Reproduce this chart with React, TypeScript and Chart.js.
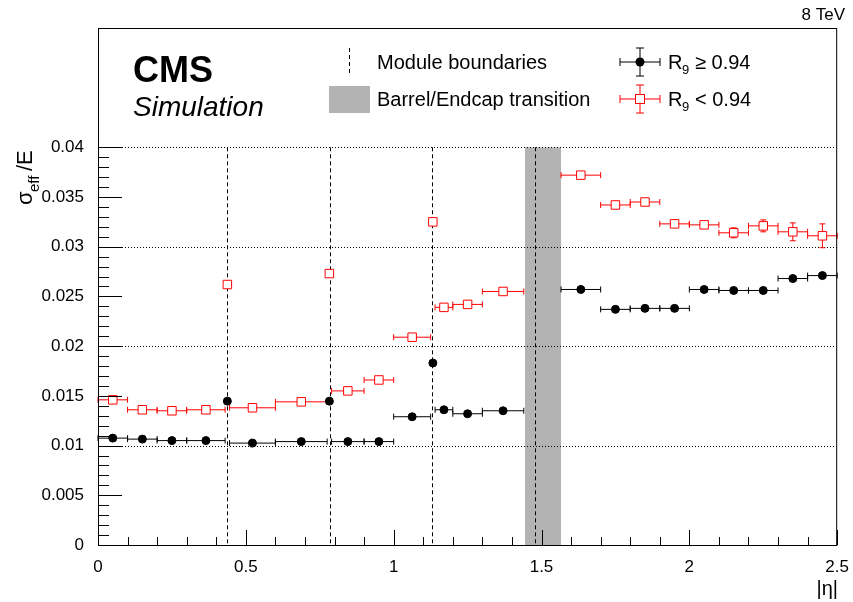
import React, { useEffect, useRef } from 'react';
import { Chart, registerables } from 'chart.js';
Chart.register(...registerables);

// bin edges in |eta| and bin values
const binLo = [0, 0.1, 0.2, 0.3, 0.43, 0.445, 0.6, 0.775, 0.79, 0.9, 1.0, 1.125, 1.14, 1.2, 1.3, 1.566, 1.7, 1.8, 1.9, 2.0, 2.1, 2.2, 2.3, 2.4];
const binHi = [0.1, 0.2, 0.3, 0.43, 0.445, 0.6, 0.775, 0.79, 0.9, 1.0, 1.125, 1.14, 1.2, 1.3, 1.44, 1.7, 1.8, 1.9, 2.0, 2.1, 2.2, 2.3, 2.4, 2.5];
const highR9 = [0.01075, 0.01065, 0.0105, 0.0105, 0.01447, 0.01025, 0.0104, 0.01447, 0.0104, 0.0104, 0.0129, 0.0183, 0.0136, 0.0132, 0.0135, 0.0257, 0.0237, 0.0238, 0.0238, 0.0257, 0.0256, 0.0256, 0.0268, 0.0271];
const highErr = [0.0001, 0.0001, 0.0001, 0.0001, 0.0002, 0.0001, 0.0001, 0.0002, 0.0001, 0.0001, 0.0002, 0.0003, 0.0002, 0.0002, 0.0002, 0.0002, 0.0002, 0.0002, 0.0002, 0.0002, 0.0002, 0.0002, 0.0003, 0.0003];
const lowR9 = [0.0146, 0.0136, 0.0135, 0.0136, 0.0262, 0.0138, 0.0144, 0.0273, 0.0155, 0.0166, 0.0209, 0.0325, 0.0239, 0.0242, 0.0255, 0.0372, 0.0342, 0.0345, 0.0323, 0.0322, 0.0314, 0.0321, 0.0315, 0.0311];
const lowErr = [0.0002, 0.0002, 0.0002, 0.0002, 0.0004, 0.0002, 0.0002, 0.0004, 0.0002, 0.0002, 0.0003, 0.0004, 0.0003, 0.0003, 0.0003, 0.0004, 0.0003, 0.0003, 0.0004, 0.0004, 0.0005, 0.0006, 0.0009, 0.0012];
const moduleBounds = [0.435, 0.783, 1.13, 1.479];
const transition = [1.4442, 1.566];
const yTicks = [0, 0.005, 0.01, 0.015, 0.02, 0.025, 0.03, 0.035, 0.04];

const FONT = '"Liberation Sans", Arial, sans-serif';
const RED = '#ff0000';

const mkPts = (vals: number[], errs: number[]) =>
  vals.map((v, i) => ({ x: (binLo[i] + binHi[i]) / 2, y: v, lo: binLo[i], hi: binHi[i], e: errs[i] }));

const deco = {
  id: 'deco',
  beforeDatasetsDraw(chart: any) {
    const { ctx, chartArea: a, scales: { x, y } } = chart;
    ctx.save();
    // transition band
    ctx.fillStyle = '#b3b3b3';
    ctx.fillRect(x.getPixelForValue(transition[0]), y.getPixelForValue(0.04), x.getPixelForValue(transition[1]) - x.getPixelForValue(transition[0]), a.bottom - y.getPixelForValue(0.04));
    // dotted grid
    ctx.strokeStyle = '#000';
    ctx.lineWidth = 1;
    ctx.setLineDash([1, 2]);
    [0.01, 0.02, 0.03, 0.04].forEach((v) => {
      const py = Math.round(y.getPixelForValue(v)) + 0.5;
      ctx.beginPath(); ctx.moveTo(a.left, py); ctx.lineTo(a.right, py); ctx.stroke();
    });
    // module boundaries
    ctx.setLineDash([4, 3]);
    moduleBounds.forEach((b) => {
      const px = Math.round(x.getPixelForValue(b)) + 0.5;
      ctx.beginPath(); ctx.moveTo(px, y.getPixelForValue(0.04)); ctx.lineTo(px, a.bottom); ctx.stroke();
    });
    ctx.setLineDash([]);
    // error bars
    chart.data.datasets.forEach((ds: any) => {
      ctx.strokeStyle = ds.borderColor;
      ds.data.forEach((p: any) => {
        const px = x.getPixelForValue(p.x), py = y.getPixelForValue(p.y);
        const x0 = x.getPixelForValue(p.lo), x1 = x.getPixelForValue(p.hi);
        ctx.beginPath();
        ctx.moveTo(x0, py); ctx.lineTo(x1, py);
        ctx.moveTo(x0, py - 3); ctx.lineTo(x0, py + 3);
        ctx.moveTo(x1, py - 3); ctx.lineTo(x1, py + 3);
        ctx.moveTo(px, y.getPixelForValue(p.y - p.e)); ctx.lineTo(px, y.getPixelForValue(p.y + p.e));
        ctx.stroke();
        if (p.e > 0.0004) {
          [p.y - p.e, p.y + p.e].forEach((v) => {
            const q = y.getPixelForValue(v);
            ctx.beginPath(); ctx.moveTo(px - 3, q); ctx.lineTo(px + 3, q); ctx.stroke();
          });
        }
      });
    });
    ctx.restore();
  },
  afterDraw(chart: any) {
    const { ctx, chartArea: a, scales: { x, y } } = chart;
    ctx.save();
    ctx.strokeStyle = '#000';
    ctx.lineWidth = 1;
    ctx.strokeRect(a.left + 0.5, a.top + 0.5, a.right - a.left - 1, a.bottom - a.top);
    // inner ticks (left and bottom only)
    ctx.beginPath();
    for (let i = 0; i <= 40; i++) {
      const v = i * 0.001;
      const py = Math.round(y.getPixelForValue(v)) + 0.5;
      const l = i % 5 === 0 ? 24 : 11;
      ctx.moveTo(a.left, py); ctx.lineTo(a.left + l, py);
    }
    for (let i = 0; i <= 25; i++) {
      const px = Math.round(x.getPixelForValue(i * 0.1)) + 0.5;
      const l = i % 5 === 0 ? 15 : 8;
      ctx.moveTo(px, a.bottom); ctx.lineTo(px, a.bottom - l);
    }
    ctx.stroke();
    // texts
    ctx.fillStyle = '#000';
    ctx.textBaseline = 'alphabetic';
    ctx.font = `bold 36px ${FONT}`;
    ctx.fillText('CMS', 133, 82);
    ctx.font = `italic 28px ${FONT}`;
    ctx.fillText('Simulation', 133, 116);
    ctx.font = `17px ${FONT}`;
    ctx.textAlign = 'right';
    ctx.fillText('8 TeV', 845, 20);
    ctx.font = `20px ${FONT}`;
    ctx.fillText('|η|', 838, 595);
    ctx.textAlign = 'left';
    // legend
    ctx.setLineDash([4, 3]);
    ctx.beginPath(); ctx.moveTo(349.5, 48); ctx.lineTo(349.5, 76); ctx.stroke();
    ctx.setLineDash([]);
    ctx.fillStyle = '#b3b3b3';
    ctx.fillRect(329, 86, 41, 27);
    ctx.fillStyle = '#000';
    ctx.font = `20px ${FONT}`;
    ctx.fillText('Module boundaries', 377, 69);
    ctx.fillText('Barrel/Endcap transition', 377, 106);
    // R9 markers
    const mark = (cy: number, col: string, open: boolean) => {
      ctx.strokeStyle = col;
      ctx.beginPath();
      ctx.moveTo(620, cy); ctx.lineTo(660, cy);
      ctx.moveTo(640, cy - 14); ctx.lineTo(640, cy + 14);
      ctx.moveTo(620, cy - 4); ctx.lineTo(620, cy + 4);
      ctx.moveTo(660, cy - 4); ctx.lineTo(660, cy + 4);
      ctx.moveTo(636, cy - 14); ctx.lineTo(644, cy - 14);
      ctx.moveTo(636, cy + 14); ctx.lineTo(644, cy + 14);
      ctx.stroke();
      if (open) { ctx.fillStyle = '#fff'; ctx.fillRect(635, cy - 5, 10, 10); ctx.strokeRect(635.5, cy - 4.5, 9, 9); }
      else { ctx.fillStyle = col; ctx.beginPath(); ctx.arc(640, cy, 4.5, 0, Math.PI * 2); ctx.fill(); }
    };
    mark(62, '#000', false);
    mark(99, RED, true);
    ctx.fillStyle = '#000';
    const r9 = (ty: number, rest: string) => {
      ctx.font = `20px ${FONT}`;
      ctx.fillText('R', 668, ty);
      ctx.font = `13px ${FONT}`;
      ctx.fillText('9', 682, ty + 5);
      ctx.font = `20px ${FONT}`;
      ctx.fillText(rest, 695, ty);
    };
    r9(69, '≥ 0.94');
    r9(106, '< 0.94');
    // y title
    ctx.translate(32, 205);
    ctx.rotate(-Math.PI / 2);
    ctx.font = `22px ${FONT}`;
    ctx.fillText('σ', 0, 0);
    ctx.font = `15px ${FONT}`;
    ctx.fillText('eff', 13, 7);
    ctx.font = `22px ${FONT}`;
    ctx.fillText('/E', 34, 0);
    ctx.restore();
  },
};

const App: React.FC = () => {
  const ref = useRef<HTMLCanvasElement>(null);
  useEffect(() => {
    document.body.style.margin = '0';
    if (!ref.current) return;
    const chart = new Chart(ref.current, {
      type: 'scatter',
      data: {
        datasets: [
          { label: 'R9 >= 0.94', data: mkPts(highR9, highErr) as any, borderColor: '#000', backgroundColor: '#000', pointRadius: 4, pointStyle: 'circle', borderWidth: 1 },
          { label: 'R9 < 0.94', data: mkPts(lowR9, lowErr) as any, borderColor: RED, backgroundColor: '#fff', pointRadius: 6, pointStyle: 'rect', borderWidth: 1 },
        ],
      },
      options: {
        animation: false,
        responsive: false,
        layout: { padding: { top: 28, right: 15, left: 0, bottom: 0 } },
        plugins: { legend: { display: false }, tooltip: { enabled: false } },
        scales: {
          x: {
            min: 0, max: 2.5,
            grid: { display: false },
            border: { display: false },
            afterFit: (s: any) => { s.height = 57; },
            afterBuildTicks: (s: any) => { s.ticks = [0, 0.5, 1, 1.5, 2, 2.5].map((v) => ({ value: v })); },
            ticks: { color: '#000', font: { family: FONT, size: 17 }, padding: 4, maxRotation: 0, callback: (v: any) => String(v) },
          },
          y: {
            min: 0, max: 0.052,
            grid: { display: false },
            border: { display: false },
            afterFit: (s: any) => { s.width = 98; },
            afterBuildTicks: (s: any) => { s.ticks = yTicks.map((v) => ({ value: v })); },
            ticks: { color: '#000', font: { family: FONT, size: 17 }, padding: 6, callback: (v: any) => String(+Number(v).toFixed(3)) },
          },
        },
      },
      plugins: [deco],
    });
    return () => chart.destroy();
  }, []);
  return <canvas ref={ref} width={853} height={602} />;
};

export default App;
